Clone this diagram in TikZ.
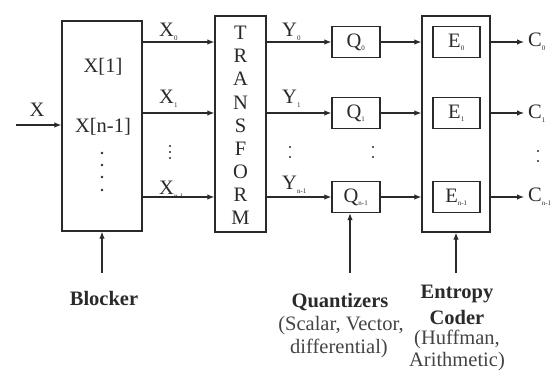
\documentclass[tikz,border=0pt]{standalone}
\usepackage{fontspec}
\setmainfont{Liberation Serif}
\usetikzlibrary{arrows.meta}
\definecolor{ink}{HTML}{2A2A2A}
\definecolor{soft}{HTML}{444444}
\newcommand{\mysub}[1]{\textsubscript{\fontsize{7}{8}\selectfont #1}}
\begin{document}
\begin{tikzpicture}[x=1pt,y=-1pt,
  font=\fontsize{20.5}{23}\selectfont,
  every node/.style={text=ink,inner sep=0pt},
  box/.style={draw=ink,line width=1.4pt,rectangle},
  arr/.style={draw=ink,line width=1.1pt,-{Latex[length=7pt,width=5.5pt]}},
  dotm/.style={circle,fill=ink,minimum size=2.6pt}
]
\useasboundingbox (0,0) rectangle (557,374);
% main boxes
\node[box,minimum width=80pt,minimum height=210pt] (blk) at (102,126) {};
\node[box,minimum width=51pt,minimum height=216pt] (tr) at (240.5,124) {};
\node[box,minimum width=68pt,minimum height=216pt] (ent) at (456,124) {};
% blocker contents
\node (x1) at (103,67) {X[1]};
\node (xn) at (103,127) {X[n-1]};
\foreach \y [count=\i] in {153,165,177,190} \node[dotm] (bd\i) at (102,\y) {};
% transform letters
\foreach \l [count=\i] in {T,R,A,N,S,F,O,R,M}
  \node (t\i) at (240.5,{33+(\i-1)*23.1}) {\l};
% Q boxes
\node[box,minimum width=48pt,minimum height=31pt] (q0) at (356,42) {Q\mysub{0}};
\node[box,minimum width=48pt,minimum height=31pt] (q1) at (356,113) {Q\mysub{1}};
\node[box,minimum width=48pt,minimum height=31pt] (qn) at (356,197) {Q\mysub{n-1}};
% E boxes
\node[box,minimum width=47pt,minimum height=31pt] (e0) at (456.5,42) {E\mysub{0}};
\node[box,minimum width=47pt,minimum height=31pt] (e1) at (456.5,113) {E\mysub{1}};
\node[box,minimum width=47pt,minimum height=31pt] (en) at (456.5,197) {E\mysub{n-1}};
% rows
\coordinate (r0) at (0,42);
\coordinate (r1) at (0,113);
\coordinate (rn) at (0,197);
% input
\coordinate (xin) at (16,125);
\node (xl) at (37,110) {X};
\draw[arr] (xin) -- (xin -| blk.west);
% blocker -> transform
\draw[arr] (r0 -| blk.east) -- (r0 -| tr.west);
\draw[arr] (r1 -| blk.east) -- (r1 -| tr.west);
\draw[arr] (rn -| blk.east) -- (rn -| tr.west);
\node[anchor=base west] (lx0) at (159,37) {X\mysub{0}};
\node[anchor=base west] (lx1) at (159,104) {X\mysub{1}};
\node[anchor=base west] (lxn) at (159,195) {X\mysub{n-1}};
\foreach \y [count=\i] in {146,152,158} \node[dotm,minimum size=2.2pt] (xd\i) at (170,\y) {};
% transform -> Q
\draw[arr] (r0 -| tr.east) -- (q0.west);
\draw[arr] (r1 -| tr.east) -- (q1.west);
\draw[arr] (rn -| tr.east) -- (qn.west);
\node[anchor=base west] (ly0) at (282,37) {Y\mysub{0}};
\node[anchor=base west] (ly1) at (282,104) {Y\mysub{1}};
\node[anchor=base west] (lyn) at (282,190) {Y\mysub{n-1}};
\foreach \y [count=\i] in {147,157} \node[dotm,minimum size=2.4pt] (yd\i) at (290,\y) {};
\foreach \y [count=\i] in {147,157} \node[dotm,minimum size=2.4pt] (qd\i) at (373,\y) {};
% Q -> entropy
\draw[arr] (q0.east) -- (q0 -| ent.west);
\draw[arr] (q1.east) -- (q1 -| ent.west);
\draw[arr] (qn.east) -- (qn -| ent.west);
% entropy -> C
\coordinate (c0) at (524,42);
\coordinate (c1) at (524,113);
\coordinate (cn) at (524,197);
\draw[arr] (c0 -| ent.east) -- (c0);
\draw[arr] (c1 -| ent.east) -- (c1);
\draw[arr] (cn -| ent.east) -- (cn);
\node[anchor=base west] (lc0) at (528,47) {C\mysub{0}};
\node[anchor=base west] (lc1) at (528,119) {C\mysub{1}};
\node[anchor=base west] (lcn) at (528,202) {C\mysub{n-1}};
\foreach \y [count=\i] in {151,161} \node[dotm,minimum size=2.4pt] (cd\i) at (538,\y) {};
% bottom arrows
\coordinate (bb) at (102,273);
\coordinate (bq) at (350,273);
\coordinate (be) at (456,273);
\draw[arr] (bb) -- (bb |- blk.south);
\draw[arr] (bq) -- (bq |- qn.south);
\draw[arr] (be) -- (be |- ent.south);
% bottom labels
\node (lb) at (104,298) {\bfseries Blocker};
\node (lq1) at (340,302) {\bfseries Quantizers};
\node[text=soft] (lq2) at (341,326) {(Scalar, Vector,};
\node[text=soft] (lq3) at (339,348) {differential)};
\node (le1) at (457,294) {\bfseries Entropy};
\node (le2) at (457,317) {\bfseries Coder};
\node[text=soft] (le3) at (457,339) {(Huffman,};
\node[text=soft] (le4) at (457,362) {Arithmetic)};
\end{tikzpicture}
\end{document}
